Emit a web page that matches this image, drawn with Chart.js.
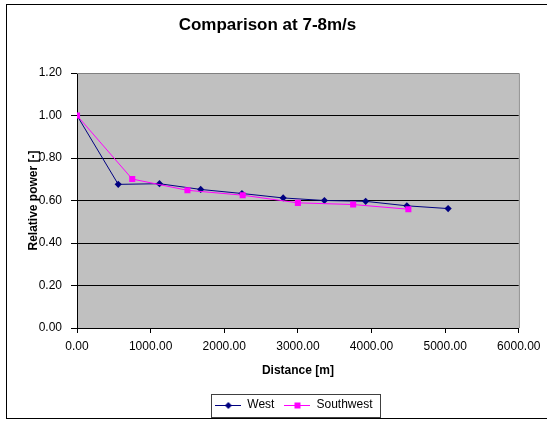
<!DOCTYPE html>
<html lang="en">
<head>
    <meta charset="UTF-8">
    <title>Comparison at 7-8m/s</title>
    <script src="https://cdn.jsdelivr.net/npm/chart.js"></script>
    <style>
        body {
            margin: 0;
            background: #ffffff;
        }
        #chart {
            display: block;
        }
    </style>
</head>
<body>
    <canvas id="chart" width="547" height="421"></canvas>

    <script>
        // Data
        const westDistance = [0, 560, 1120, 1680, 2240, 2800, 3360, 3920, 4480, 5040];
        const westPower = [1.00, 0.676, 0.679, 0.652, 0.633, 0.612, 0.600, 0.596, 0.575, 0.562];
        const swDistance = [0, 750, 1500, 2250, 3000, 3750, 4500];
        const swPower = [1.00, 0.701, 0.648, 0.625, 0.589, 0.581, 0.559];

        const xTicks = [0, 1000, 2000, 3000, 4000, 5000, 6000];
        const yTicks = [0, 0.2, 0.4, 0.6, 0.8, 1.0, 1.2];

        const FONT = "'Liberation Sans', Arial, sans-serif";
        const NAVY = '#000080';
        const MAGENTA = '#FF00FF';

        function toPoints(xs, ys) {
            return xs.map((x, i) => ({ x: x, y: ys[i] }));
        }

        // little line + marker icon for the legend
        function legendIcon(color, shape) {
            const c = document.createElement('canvas');
            c.width = 26;
            c.height = 12;
            const g = c.getContext('2d');
            g.strokeStyle = color;
            g.lineWidth = 1;
            g.beginPath();
            g.moveTo(0, 6.5);
            g.lineTo(26, 6.5);
            g.stroke();
            g.fillStyle = color;
            g.beginPath();
            if (shape === 'diamond') {
                g.moveTo(13, 3);
                g.lineTo(16.5, 6.5);
                g.lineTo(13, 10);
                g.lineTo(9.5, 6.5);
                g.closePath();
            } else {
                g.rect(10, 3.5, 6, 6);
            }
            g.fill();
            return c;
        }

        const chartLook = {
            id: 'chartLook',
            afterLayout(chart) {
                // legend sits centred under the plot area, not the whole canvas
                const lg = chart.legend;
                const a = chart.chartArea;
                const dx = (a.left + a.right) / 2 - (lg.left + lg.right) / 2 - 4;
                lg.left += dx;
                lg.right += dx;
            },
            beforeDraw(chart) {
                const { ctx, chartArea: a } = chart;
                ctx.save();
                ctx.fillStyle = '#C0C0C0';
                ctx.fillRect(a.left, a.top, a.right - a.left, a.bottom - a.top);
                ctx.restore();
            },
            beforeDatasetsDraw(chart) {
                const { ctx, chartArea: a } = chart;
                ctx.save();
                ctx.strokeStyle = '#808080';
                ctx.lineWidth = 1;
                ctx.beginPath();
                ctx.moveTo(a.left, a.top + 0.5);
                ctx.lineTo(a.right + 0.5, a.top + 0.5);
                ctx.lineTo(a.right + 0.5, a.bottom);
                ctx.stroke();
                ctx.restore();
            },
            afterDraw(chart) {
                const ctx = chart.ctx;
                ctx.save();
                // outer frame
                ctx.strokeStyle = '#000000';
                ctx.lineWidth = 1;
                ctx.strokeRect(6.5, 4.5, 545, 414);
                // legend frame
                const hb = chart.legend.legendHitBoxes;
                if (hb && hb.length) {
                    const last = hb[hb.length - 1];
                    const cy = hb[0].top + hb[0].height / 2;
                    const left = Math.round(hb[0].left - 4) + 0.5;
                    const right = Math.round(last.left + last.width + 8) + 0.5;
                    ctx.strokeStyle = '#404040';
                    ctx.strokeRect(left, Math.round(cy - 11.5) + 0.5, right - left, 23);
                }
                ctx.restore();
            }
        };

        const ctx = document.getElementById('chart').getContext('2d');
        const chart = new Chart(ctx, {
            type: 'line',
            data: {
                datasets: [
                    {
                        label: 'West',
                        data: toPoints(westDistance, westPower),
                        borderColor: NAVY,
                        backgroundColor: NAVY,
                        borderWidth: 1,
                        pointStyle: 'rectRot',
                        pointRadius: 3.6,
                        pointBorderWidth: 0,
                        tension: 0,
                        order: 1
                    },
                    {
                        label: 'Southwest',
                        data: toPoints(swDistance, swPower),
                        borderColor: MAGENTA,
                        backgroundColor: MAGENTA,
                        borderWidth: 1,
                        pointStyle: 'rect',
                        pointRadius: 4.3,
                        pointBorderWidth: 0,
                        tension: 0,
                        order: 0
                    }
                ]
            },
            options: {
                responsive: false,
                animation: false,
                layout: {
                    padding: { left: 16, right: 28, top: 0, bottom: 0 }
                },
                plugins: {
                    title: {
                        display: true,
                        text: 'Comparison at 7-8m/s',
                        color: '#000000',
                        font: { family: FONT, size: 17, weight: 'bold' },
                        padding: { top: 15, bottom: 37.6 }
                    },
                    legend: {
                        position: 'bottom',
                        labels: {
                            usePointStyle: true,
                            pointStyleWidth: 26,
                            boxHeight: 12,
                            padding: 10,
                            color: '#000000',
                            font: { family: FONT, size: 12 },
                            generateLabels() {
                                return [
                                    { text: 'West', pointStyle: legendIcon(NAVY, 'diamond'), fillStyle: NAVY, strokeStyle: NAVY, lineWidth: 0, hidden: false, datasetIndex: 0, fontColor: '#000000' },
                                    { text: 'Southwest', pointStyle: legendIcon(MAGENTA, 'square'), fillStyle: MAGENTA, strokeStyle: MAGENTA, lineWidth: 0, hidden: false, datasetIndex: 1, fontColor: '#000000' }
                                ];
                            }
                        }
                    },
                    tooltip: { enabled: false }
                },
                scales: {
                    x: {
                        type: 'linear',
                        min: 0,
                        max: 6000,
                        afterFit(scale) { scale.height = 61; },
                        afterBuildTicks(scale) { scale.ticks = xTicks.map(v => ({ value: v })); },
                        border: { color: '#000000', width: 1 },
                        grid: { drawOnChartArea: false, drawTicks: true, tickLength: 5, tickColor: '#000000' },
                        ticks: {
                            color: '#000000',
                            font: { family: FONT, size: 12 },
                            padding: 6.5,
                            maxRotation: 0,
                            callback: v => v.toFixed(2)
                        },
                        title: {
                            display: true,
                            text: 'Distance [m]',
                            color: '#000000',
                            font: { family: FONT, size: 12, weight: 'bold' },
                            padding: { top: 0, bottom: 11 }
                        }
                    },
                    y: {
                        min: 0,
                        max: 1.2,
                        afterFit(scale) { scale.width = 61; },
                        afterBuildTicks(scale) { scale.ticks = yTicks.map(v => ({ value: v })); },
                        border: { color: '#000000', width: 1 },
                        grid: {
                            color: c => (c.tick && c.tick.value >= 1.19 ? 'rgba(0,0,0,0)' : '#000000'),
                            lineWidth: 1,
                            tickLength: 6,
                            tickColor: '#000000'
                        },
                        ticks: {
                            color: '#000000',
                            font: { family: FONT, size: 12 },
                            padding: 9,
                            callback: v => v.toFixed(2)
                        },
                        title: {
                            display: true,
                            text: 'Relative power [-]',
                            color: '#000000',
                            font: { family: FONT, size: 12, weight: 'bold' },
                            padding: { top: 10, bottom: 0 }
                        }
                    }
                }
            },
            plugins: [chartLook]
        });
    </script>
</body>
</html>
